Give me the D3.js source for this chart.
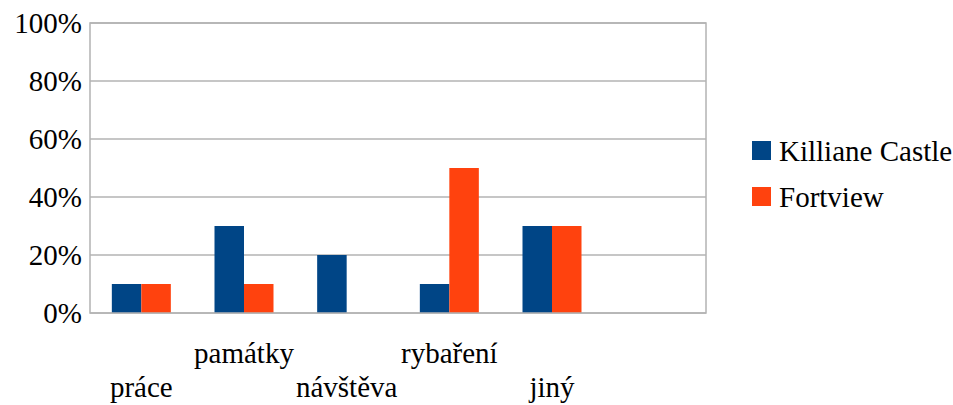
<!DOCTYPE html>
<html>
<head>
<meta charset="utf-8">
<script src="https://cdn.jsdelivr.net/npm/d3@7"></script>
</head>
<body style="margin:0">
<svg id="chart" width="953" height="405"></svg>
<script>
// Chart data
const categories = ["práce", "památky", "návštěva", "rybaření", "jiný", ""];
const seriesNames = ["Killiane Castle", "Fortview"];
const killianeCastle = [10, 30, 20, 10, 30, null];
const fortview = [10, 10, 0, 50, 30, null];
const yTicks = [0, 20, 40, 60, 80, 100];
const colors = ["#004586", "#ff420e"];

const seriesValues = [killianeCastle, fortview];
const rows = categories.map((c, i) => ({
  cat: c,
  vals: seriesNames.map((s, j) => ({ series: s, idx: j, v: seriesValues[j][i] }))
}));

const svg = d3.select("#chart");
const plot = { left: 90, right: 706, top: 23, bottom: 313 };
const gridColor = "#b3b3b3";

const x = d3.scaleBand()
  .domain(d3.range(categories.length))
  .range([plot.left, plot.right])
  .paddingInner(0)
  .paddingOuter(0);

const xInner = d3.scaleBand()
  .domain(d3.range(seriesNames.length))
  .range([0, x.bandwidth()])
  .paddingOuter(0.74)
  .paddingInner(0);

const y = d3.scaleLinear().domain([0, 100]).range([plot.bottom, plot.top]);

// Text is placed directly on the svg root; alignment is done by measuring.
function addLabel(str, px, py, align) {
  const t = svg.append("text")
    .style("font-family", '"Liberation Serif"')
    .style("font-size", "29px")
    .attr("y", py)
    .text(str);
  const w = str ? t.node().getComputedTextLength() : 0;
  const shift = align === "end" ? w : align === "middle" ? w / 2 : 0;
  t.attr("x", px - shift);
  return t;
}

// Horizontal grid lines
svg.selectAll("line.grid")
  .data(yTicks)
  .join("line")
  .attr("class", "grid")
  .attr("x1", plot.left)
  .attr("x2", plot.right)
  .attr("y1", d => y(d))
  .attr("y2", d => y(d))
  .attr("stroke", gridColor)
  .attr("stroke-width", 1.5);

// Bars
rows.forEach((row, i) => {
  row.vals
    .filter(v => v.v != null && v.v > 0)
    .forEach(v => {
      svg.append("rect")
        .attr("x", x(i) + xInner(v.idx))
        .attr("width", xInner.bandwidth())
        .attr("y", y(v.v))
        .attr("height", y(0) - y(v.v))
        .attr("fill", colors[v.idx]);
    });
});

// Plot frame
svg.append("rect")
  .attr("x", plot.left)
  .attr("y", plot.top)
  .attr("width", plot.right - plot.left)
  .attr("height", plot.bottom - plot.top)
  .attr("fill", "none")
  .attr("stroke", gridColor)
  .attr("stroke-width", 1.5);

// Y axis labels
yTicks.forEach(d => addLabel(d + "%", 82, y(d) + 10, "end"));

// Category labels, staggered on two rows
categories.forEach((c, i) => {
  addLabel(c, x(i) + x.bandwidth() / 2, i % 2 === 0 ? 397 : 363, "middle");
});

// Legend
seriesNames.forEach((name, i) => {
  const top = 141 + i * 46;
  svg.append("rect")
    .attr("x", 752)
    .attr("y", top)
    .attr("width", 19)
    .attr("height", 19)
    .attr("fill", colors[i]);
  addLabel(name, 779, top + 20, "start");
});
</script>
</body>
</html>
